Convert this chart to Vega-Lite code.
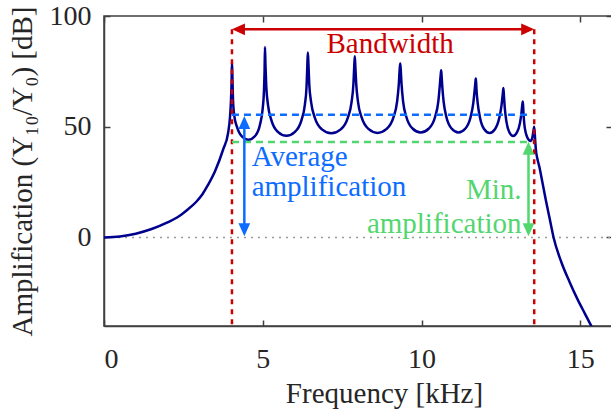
{
  "$schema": "https://vega.github.io/schema/vega-lite/v6.json",
  "width": 508,
  "height": 310,
  "autosize": "none",
  "padding": {"left": 104, "top": 16, "right": 0, "bottom": 83},
  "background": "white",
  "config": {
    "view": {"stroke": "#404040", "strokeWidth": 1.5},
    "axis": {
      "domainColor": "#404040", "domainWidth": 1.5,
      "tickColor": "#404040", "tickWidth": 1.5, "tickSize": -6,
      "labelFont": "Liberation Serif", "labelFontSize": 28, "labelColor": "#262626",
      "titleFont": "Liberation Serif", "titleFontSize": 29, "titleFontWeight": "normal", "titleColor": "#262626",
      "grid": false
    },
    "text": {"font": "Liberation Serif", "fontSize": 29}
  },
  "datasets": {
    "zero": [{"x": 0, "x2": 16, "y": 0}],
    "curve": [
      {"f": 0, "a": 0}, {"f": 0.5, "a": 0.45}, {"f": 1.0, "a": 1.7}, {"f": 1.5, "a": 3.8}, {"f": 2.0, "a": 6.8},
      {"f": 2.3, "a": 9.0}, {"f": 2.6, "a": 12.2}, {"f": 2.9, "a": 16}, {"f": 3.1, "a": 19.5}, {"f": 3.28, "a": 23.8},
      {"f": 3.5, "a": 30}, {"f": 3.75, "a": 39.6}, {"f": 3.91, "a": 47.3}, {"f": 3.97, "a": 54.6}, {"f": 4.0, "a": 62},
      {"f": 4.02, "a": 71}, {"f": 4.03, "a": 79},
      {"f": 4.042, "a": 74}, {"f": 4.061, "a": 63}, {"f": 4.103, "a": 55}, {"f": 4.186, "a": 50}, {"f": 4.342, "a": 45.6},
      {"f": 4.55, "a": 44.1}, {"f": 4.758, "a": 45.8}, {"f": 4.914, "a": 51}, {"f": 4.997, "a": 58}, {"f": 5.039, "a": 66.4},
      {"f": 5.058, "a": 75.8}, {"f": 5.07, "a": 86},
      {"f": 5.086, "a": 77.7}, {"f": 5.111, "a": 68.3}, {"f": 5.165, "a": 59.9}, {"f": 5.273, "a": 52.9}, {"f": 5.475, "a": 47.7},
      {"f": 5.745, "a": 45.9}, {"f": 6.015, "a": 47.7}, {"f": 6.218, "a": 52.9}, {"f": 6.326, "a": 59.9}, {"f": 6.38, "a": 68.3},
      {"f": 6.404, "a": 77.7}, {"f": 6.42, "a": 83.5},
      {"f": 6.438, "a": 78.8}, {"f": 6.464, "a": 69.4}, {"f": 6.524, "a": 61}, {"f": 6.642, "a": 54}, {"f": 6.864, "a": 48.8},
      {"f": 7.16, "a": 47}, {"f": 7.456, "a": 48.8}, {"f": 7.678, "a": 54}, {"f": 7.796, "a": 61}, {"f": 7.856, "a": 69.4},
      {"f": 7.882, "a": 77.5}, {"f": 7.9, "a": 81.8},
      {"f": 7.917, "a": 77}, {"f": 7.943, "a": 69.6}, {"f": 8.0, "a": 61.2}, {"f": 8.115, "a": 54.2}, {"f": 8.329, "a": 49},
      {"f": 8.615, "a": 47.2}, {"f": 8.901, "a": 49}, {"f": 9.116, "a": 54.2}, {"f": 9.23, "a": 61.2}, {"f": 9.287, "a": 69.6},
      {"f": 9.313, "a": 76}, {"f": 9.33, "a": 78.5},
      {"f": 9.345, "a": 76}, {"f": 9.369, "a": 69.8}, {"f": 9.42, "a": 61.4}, {"f": 9.524, "a": 54.4}, {"f": 9.717, "a": 49.2},
      {"f": 9.975, "a": 47.4}, {"f": 10.233, "a": 49.2}, {"f": 10.427, "a": 54.4}, {"f": 10.53, "a": 61.4}, {"f": 10.581, "a": 69.4},
      {"f": 10.605, "a": 73.5}, {"f": 10.62, "a": 75.5},
      {"f": 10.633, "a": 73}, {"f": 10.653, "a": 68.5}, {"f": 10.696, "a": 61.4}, {"f": 10.784, "a": 54.4}, {"f": 10.947, "a": 49.2},
      {"f": 11.165, "a": 47.4}, {"f": 11.383, "a": 49.2}, {"f": 11.547, "a": 54.4}, {"f": 11.634, "a": 61}, {"f": 11.677, "a": 67},
      {"f": 11.697, "a": 70}, {"f": 11.71, "a": 71.8},
      {"f": 11.72, "a": 70}, {"f": 11.736, "a": 66}, {"f": 11.771, "a": 60.5}, {"f": 11.841, "a": 54.2}, {"f": 11.971, "a": 49},
      {"f": 12.145, "a": 47.2}, {"f": 12.319, "a": 49}, {"f": 12.45, "a": 54}, {"f": 12.519, "a": 59.5}, {"f": 12.554, "a": 64},
      {"f": 12.57, "a": 66.3}, {"f": 12.58, "a": 67.5},
      {"f": 12.598, "a": 63.5}, {"f": 12.623, "a": 58.5}, {"f": 12.672, "a": 52.5}, {"f": 12.763, "a": 47.6}, {"f": 12.885, "a": 45.8},
      {"f": 13.007, "a": 47.4}, {"f": 13.099, "a": 51.5}, {"f": 13.147, "a": 56}, {"f": 13.172, "a": 59.5}, {"f": 13.19, "a": 61.4},
      {"f": 13.2, "a": 59.5}, {"f": 13.215, "a": 55.5}, {"f": 13.24, "a": 51}, {"f": 13.28, "a": 47.5}, {"f": 13.33, "a": 45.2},
      {"f": 13.39, "a": 43.9}, {"f": 13.44, "a": 43.6}, {"f": 13.49, "a": 45}, {"f": 13.52, "a": 47.5}, {"f": 13.55, "a": 50},
      {"f": 13.58, "a": 44}, {"f": 13.6, "a": 40}, {"f": 13.65, "a": 35.5}, {"f": 13.71, "a": 32}, {"f": 13.8, "a": 25.5},
      {"f": 13.9, "a": 18}, {"f": 14.03, "a": 9}, {"f": 14.16, "a": 0}, {"f": 14.4, "a": -11}, {"f": 14.66, "a": -20},
      {"f": 14.92, "a": -28.1}, {"f": 15.15, "a": -34.5}, {"f": 15.36, "a": -40.3}, {"f": 15.5, "a": -44}
    ],
    "segs": [
      {"x": 4.03, "x2": 4.03, "y": 94, "y2": -40, "kind": "bandwidth", "role": "limit"},
      {"x": 13.55, "x2": 13.55, "y": 94, "y2": -40, "kind": "bandwidth", "role": "limit"},
      {"x": 4.03, "x2": 13.42, "y": 55.4, "y2": 55.4, "kind": "average", "role": "level"},
      {"x": 4.03, "x2": 13.5, "y": 43.1, "y2": 43.1, "kind": "minimum", "role": "level"},
      {"x": 4.3, "x2": 13.3, "y": 94, "y2": 94, "kind": "bandwidth", "role": "arrow"},
      {"x": 4.42, "x2": 4.42, "y": 50, "y2": 5, "kind": "average", "role": "arrow"},
      {"x": 13.37, "x2": 13.37, "y": 39, "y2": 5, "kind": "minimum", "role": "arrow"}
    ],
    "heads": [
      {"x": 4.03, "y": 94, "dir": "left", "kind": "bandwidth"},
      {"x": 13.55, "y": 94, "dir": "right", "kind": "bandwidth"},
      {"x": 4.42, "y": 54.8, "dir": "up", "kind": "average"},
      {"x": 4.42, "y": 0.5, "dir": "down", "kind": "average"},
      {"x": 13.37, "y": 43.2, "dir": "up", "kind": "minimum"},
      {"x": 13.37, "y": 0.5, "dir": "down", "kind": "minimum"}
    ],
    "labels": [
      {"x": 9.01, "y": 83.4, "text": "Bandwidth", "kind": "bandwidth"},
      {"x": 4.65, "y": 32.4, "text": "Average", "kind": "average"},
      {"x": 4.65, "y": 18.8, "text": "amplification", "kind": "average"},
      {"x": 13.15, "y": 17.4, "text": "Min.", "kind": "minimum"},
      {"x": 13.15, "y": 2.1, "text": "amplification", "kind": "minimum"}
    ]
  },
  "layer": [
    {
      "data": {"name": "zero"},
      "mark": {"type": "rule", "color": "#9a9a9a", "strokeWidth": 1.5, "strokeDash": [2, 5]},
      "encoding": {
        "x": {"field": "x", "type": "quantitative", "scale": {"domain": [0, 16], "nice": false, "zero": false},
              "axis": {"orient": "top", "labels": false, "title": null, "values": [0, 5, 10, 15], "domain": false}},
        "x2": {"field": "x2"},
        "y": {"field": "y", "type": "quantitative", "scale": {"domain": [-40, 100], "nice": false, "zero": false},
              "axis": {"orient": "right", "labels": false, "title": null, "values": [0, 50, 100], "domain": false}}
      }
    },
    {
      "data": {"name": "curve"},
      "mark": {"type": "line", "color": "#00008f", "strokeWidth": 2.5, "interpolate": "monotone", "clip": true},
      "encoding": {
        "x": {"field": "f", "type": "quantitative",
              "axis": {"orient": "bottom", "title": "Frequency [kHz]", "values": [0, 5, 10, 15], "labelPadding": 25,
                       "titleX": 280, "titleY": 76, "titleAlign": "center", "titleBaseline": "alphabetic"}},
        "y": {"field": "a", "type": "quantitative",
              "axis": {"orient": "left", "title": "Amplification (Y₁₀/Y₀) [dB]", "values": [0, 50, 100], "labelPadding": 19,
                       "titleX": -73, "titleY": 155, "titleAngle": 270, "titleAlign": "center", "titleBaseline": "alphabetic"}}
      }
    },
    {
      "data": {"name": "segs"},
      "mark": {"type": "rule", "strokeWidth": 2.5},
      "encoding": {
        "x": {"field": "x", "type": "quantitative", "axis": null},
        "x2": {"field": "x2"},
        "y": {"field": "y", "type": "quantitative", "axis": null},
        "y2": {"field": "y2"},
        "color": {"field": "kind", "type": "nominal", "legend": null,
                  "scale": {"domain": ["bandwidth", "average", "minimum"], "range": ["#cc0000", "#0b6cff", "#52d66f"]}},
        "strokeDash": {"field": "role", "type": "nominal", "legend": null,
                       "scale": {"domain": ["limit", "level", "arrow"], "range": [[5, 5], [7, 5], [1, 0]]}}
      }
    },
    {
      "data": {"name": "heads"},
      "mark": {"type": "point", "filled": true, "opacity": 1, "size": 169, "strokeWidth": 0},
      "encoding": {
        "x": {"field": "x", "type": "quantitative", "axis": null},
        "y": {"field": "y", "type": "quantitative", "axis": null},
        "color": {"field": "kind", "type": "nominal", "legend": null,
                  "scale": {"domain": ["bandwidth", "average", "minimum"], "range": ["#cc0000", "#0b6cff", "#52d66f"]}},
        "shape": {"field": "dir", "type": "nominal", "legend": null,
                  "scale": {"domain": ["left", "right", "up", "down"],
                            "range": ["M0,0L2,-0.9L2,0.9Z", "M0,0L-2,-0.9L-2,0.9Z", "M0,0L-0.9,2L0.9,2Z", "M0,0L-0.9,-2L0.9,-2Z"]}}
      }
    },
    {
      "data": {"name": "labels"},
      "transform": [{"filter": "datum.kind === 'bandwidth'"}],
      "mark": {"type": "text", "align": "center", "baseline": "alphabetic"},
      "encoding": {
        "x": {"field": "x", "type": "quantitative", "axis": null},
        "y": {"field": "y", "type": "quantitative", "axis": null},
        "text": {"field": "text"},
        "color": {"field": "kind", "type": "nominal", "legend": null,
                  "scale": {"domain": ["bandwidth", "average", "minimum"], "range": ["#c00000", "#0b6cff", "#52d66f"]}}
      }
    },
    {
      "data": {"name": "labels"},
      "transform": [{"filter": "datum.kind === 'average'"}],
      "mark": {"type": "text", "align": "left", "baseline": "alphabetic"},
      "encoding": {
        "x": {"field": "x", "type": "quantitative", "axis": null},
        "y": {"field": "y", "type": "quantitative", "axis": null},
        "text": {"field": "text"},
        "color": {"field": "kind", "type": "nominal", "legend": null,
                  "scale": {"domain": ["bandwidth", "average", "minimum"], "range": ["#c00000", "#0b6cff", "#52d66f"]}}
      }
    },
    {
      "data": {"name": "labels"},
      "transform": [{"filter": "datum.kind === 'minimum'"}],
      "mark": {"type": "text", "align": "right", "baseline": "alphabetic"},
      "encoding": {
        "x": {"field": "x", "type": "quantitative", "axis": null},
        "y": {"field": "y", "type": "quantitative", "axis": null},
        "text": {"field": "text"},
        "color": {"field": "kind", "type": "nominal", "legend": null,
                  "scale": {"domain": ["bandwidth", "average", "minimum"], "range": ["#c00000", "#0b6cff", "#52d66f"]}}
      }
    }
  ],
  "resolve": {"axis": {"x": "independent", "y": "independent"}}
}
